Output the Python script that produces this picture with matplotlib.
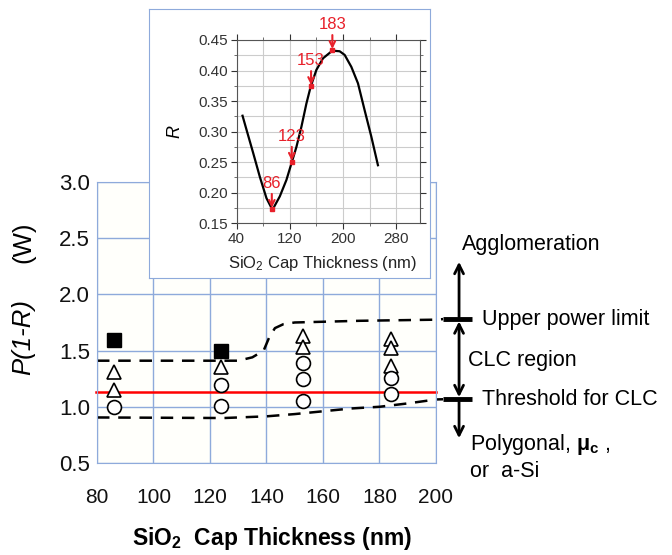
import matplotlib.pyplot as plt
from matplotlib.ticker import MultipleLocator, FormatStrFormatter

plt.rcParams['font.family'] = ['Liberation Sans', 'DejaVu Sans']
plt.rcParams['mathtext.fontset'] = 'custom'
plt.rcParams['mathtext.rm'] = 'Liberation Sans'
plt.rcParams['mathtext.it'] = 'Liberation Sans:italic'
plt.rcParams['mathtext.bf'] = 'Liberation Sans:bold'

# main chart data (SiO2 cap thickness in nm, P(1-R) in W)
sq_x = [86, 124]
sq_y = [1.59, 1.50]
tri_x = [86, 86, 124, 153, 153, 184, 184, 184]
tri_y = [1.31, 1.15, 1.35, 1.63, 1.53, 1.60, 1.52, 1.36]
circ_x = [86, 124, 124, 153, 153, 153, 184, 184]
circ_y = [1.00, 1.01, 1.19, 1.39, 1.25, 1.05, 1.26, 1.11]
threshold = 1.13

upper_x = [80, 130, 135, 139, 141, 143, 146, 150, 173, 200, 202.5]
upper_y = [1.41, 1.41, 1.44, 1.50, 1.62, 1.70, 1.735, 1.75, 1.765, 1.775, 1.78]
lower_x = [80, 125, 140, 150, 160, 170, 180, 190, 200, 202.5]
lower_y = [0.905, 0.90, 0.915, 0.935, 0.96, 0.985, 1.0, 1.03, 1.065, 1.067]

# inset data (reflectance vs cap thickness)
cap_nm = [49, 55, 65, 75, 85, 94, 105, 115, 122.5, 130, 137.5, 145, 151.5,
          160, 170, 184, 195, 202.5, 212.5, 222.5, 232.5, 242.5, 252.5]
refl = [0.326, 0.303, 0.265, 0.226, 0.191, 0.172, 0.194, 0.221, 0.248,
        0.275, 0.308, 0.346, 0.374, 0.401, 0.420, 0.4325, 0.4315, 0.4255,
        0.406, 0.379, 0.335, 0.292, 0.245]
mark_x = [93, 123, 152, 184]
mark_r = [0.173, 0.250, 0.374, 0.433]
mark_lbl = ['86', '123', '153', '183']

blue = '#8eaadb'
red = '#e8202a'

fig = plt.figure(figsize=(6.72, 5.55), dpi=100)

# main axes
ax = fig.add_axes([0.1443, 0.1658, 0.5045, 0.5063])
ax.set_facecolor('#fffffb')
ax.set_xlim(80, 200)
ax.set_ylim(0.5, 3.0)
ax.xaxis.set_major_locator(MultipleLocator(20))
ax.yaxis.set_major_locator(MultipleLocator(0.5))
ax.yaxis.set_major_formatter(FormatStrFormatter('%.1f'))
ax.grid(color=blue, lw=1)
ax.set_axisbelow(True)
for s in ax.spines.values():
    s.set_color(blue)
ax.tick_params(axis='both', length=0, colors='#111111')
ax.tick_params(axis='y', labelsize=16, pad=5)
ax.tick_params(axis='x', labelsize=15, pad=18)

ax.plot(upper_x, upper_y, color='k', lw=1.8, dashes=(5, 3.5), clip_on=False)
ax.plot(lower_x, lower_y, color='k', lw=1.8, dashes=(5, 3.5), clip_on=False)
ax.plot([79.5, 200], [threshold, threshold], color='red', lw=1.8, clip_on=False)

ax.plot(sq_x, sq_y, 's', color='k', ms=9.5, zorder=5)
ax.plot(tri_x, tri_y, '^', mfc='white', mec='k', mew=1.2, ms=10, zorder=5)
ax.plot(circ_x, circ_y, 'o', mfc='white', mec='k', mew=1.2, ms=10, zorder=5)

ax.set_xlabel(r'SiO$_\mathbf{2}$  Cap Thickness (nm)', fontsize=16.5,
              fontweight='bold')
ax.xaxis.set_label_coords(0.516, -0.222)
fig.text(23 / 672, 1 - 337 / 555, 'P(1-R)', rotation=90, fontsize=18.5,
         fontstyle='italic', ha='center', va='center')
fig.text(23 / 672, 1 - 242 / 555, '(W)', rotation=90, fontsize=18.5,
         ha='center', va='center')

# right side annotations
tr = ax.get_yaxis_transform()
for lvl in [1.78, 1.065]:
    ax.plot([1.021, 1.106], [lvl, lvl], transform=tr, color='k', lw=3.5,
            clip_on=False, solid_capstyle='butt')
arr = dict(color='k', lw=2, mutation_scale=16, shrinkA=0, shrinkB=0)
ax.annotate('', xy=(1.068, 2.29), xytext=(1.068, 1.80), xycoords=tr,
            textcoords=tr, arrowprops=dict(arrowstyle='->', **arr))
ax.annotate('', xy=(1.068, 1.085), xytext=(1.068, 1.76), xycoords=tr,
            textcoords=tr, arrowprops=dict(arrowstyle='<->', **arr))
ax.annotate('', xy=(1.068, 0.72), xytext=(1.068, 1.045), xycoords=tr,
            textcoords=tr, arrowprops=dict(arrowstyle='->', **arr))
tkw = dict(transform=tr, fontsize=15.5, va='center', ha='left', clip_on=False)
ax.text(1.077, 2.44, 'Agglomeration', **tkw)
ax.text(1.136, 1.78, 'Upper power limit', **tkw)
ax.text(1.094, 1.416, 'CLC region', **tkw)
ax.text(1.136, 1.065, 'Threshold for CLC', **tkw)
ax.text(1.100, 0.66, r'Polygonal, $\mathbf{\mu_c}$ ,', **tkw)
ax.text(1.100, 0.42, 'or  a-Si', **tkw)

# inset panel
panel = fig.add_axes([0.2217, 0.4991, 0.418, 0.4847])
panel.set_zorder(3)
panel.set_facecolor('white')
panel.set_xticks([])
panel.set_yticks([])
for s in panel.spines.values():
    s.set_color(blue)

ins = fig.add_axes([0.352, 0.5977, 0.2723, 0.3303])
ins.set_zorder(4)
ins.set_xlim(40, 315)
ins.set_ylim(0.15, 0.45)
ins.set_xticks([40, 120, 200, 280])
ins.set_xticks([80, 160, 240], minor=True)
ins.yaxis.set_major_locator(MultipleLocator(0.05))
ins.yaxis.set_major_formatter(FormatStrFormatter('%.2f'))
ins.yaxis.set_minor_locator(MultipleLocator(0.025))
ins.grid(which='both', color='#cccccc', lw=0.8)
ins.set_axisbelow(True)
for s in ins.spines.values():
    s.set_color('#555555')
    s.set_linewidth(0.8)
ins.tick_params(which='major', length=4, labelsize=11, colors='#333333',
                top=True, right=True, pad=2)
ins.tick_params(which='minor', length=2, colors='#555555', top=True,
                right=True)
ins.plot(cap_nm, refl, color='k', lw=1.6)
ins.plot(mark_x, mark_r, 's', color=red, ms=3)
for x, r, lbl in zip(mark_x, mark_r, mark_lbl):
    ins.annotate(lbl, xy=(x, r), xytext=(0, 13), textcoords='offset points',
                 ha='center', va='bottom', color=red, fontsize=12,
                 arrowprops=dict(arrowstyle='->', color=red, lw=1.5,
                                 shrinkA=0, shrinkB=1, mutation_scale=10),
                 annotation_clip=False)
ins.set_xlabel(r'SiO$_2$ Cap Thickness (nm)', fontsize=12, color='#222222')
ins.xaxis.set_label_coords(0.47, -0.17)
ins.set_ylabel('R', fontsize=13, fontstyle='italic')
ins.yaxis.set_label_coords(-0.29, 0.5)

fig.savefig('out.png', dpi=100)
